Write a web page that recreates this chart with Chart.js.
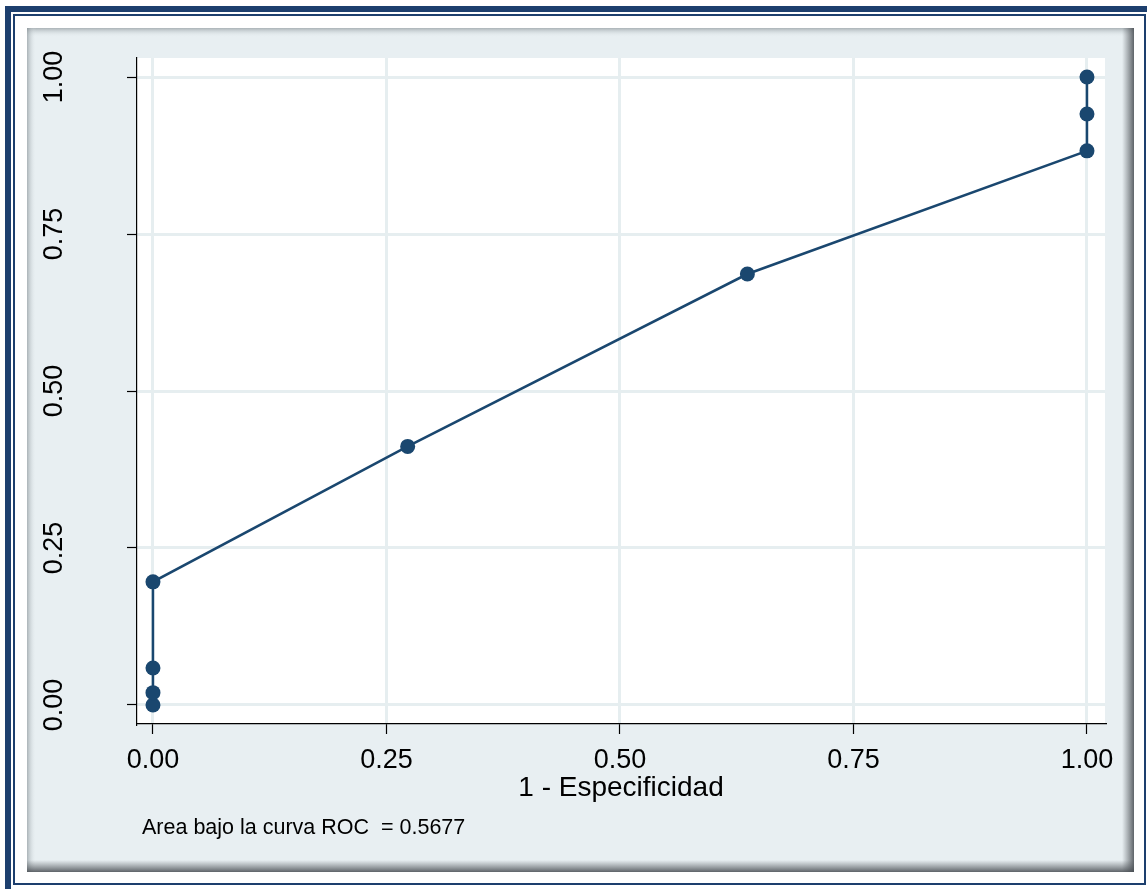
<!DOCTYPE html>
<html>
<head>
<meta charset="utf-8">
<script src="https://cdn.jsdelivr.net/npm/chart.js@4.4.1/dist/chart.umd.min.js"></script>
<style>
  html, body { margin: 0; padding: 0; background: #ffffff; }
  #wrap { position: relative; width: 1147px; height: 889px; }
</style>
</head>
<body>
<div id="wrap"><canvas id="c" width="1147" height="889"></canvas></div>
<script>
// ROC curve points: 1 - specificity (x) and sensitivity (y)
const falsePositiveRate = [0, 0, 0, 0, 0.2727, 0.6364, 1, 1, 1];
const sensitivity = [0, 0.0196, 0.0588, 0.1961, 0.4118, 0.6863, 0.8824, 0.9412, 1];
const xTickValues = [0, 0.25, 0.5, 0.75, 1];
const yTickValues = [0, 0.25, 0.5, 0.75, 1];
const xAxisTitle = '1 - Especificidad';
const footnote = 'Area bajo la curva ROC  = 0.5677';

const NAVY = '#1a476f';
const FRAME = '#1d3f6e';
const PANEL = '#e8eff2';
const GRID = '#e6eef0';
const FONT = '"Liberation Sans", Arial, sans-serif';

const points = falsePositiveRate.map((x, i) => ({ x: x, y: sensitivity[i] }));

const framePlugin = {
  id: 'frame',
  beforeDraw(chart) {
    const ctx = chart.ctx;
    const W = chart.width, H = chart.height;
    ctx.save();
    ctx.fillStyle = '#ffffff';
    ctx.fillRect(0, 0, W, H);
    // thick outer border (top and left)
    ctx.fillStyle = FRAME;
    ctx.fillRect(5, 6, W - 5, 6);
    ctx.fillRect(5, 6, 6, H - 6);
    // thin inner line
    ctx.strokeStyle = FRAME;
    ctx.lineWidth = 2;
    ctx.strokeRect(14, 15, 1131, 869);
    // panel
    const px = 27, py = 28, pw = 1107, ph = 844;
    ctx.fillStyle = PANEL;
    ctx.fillRect(px, py, pw, ph);
    // top / left soft inner shading
    let g = ctx.createLinearGradient(0, py, 0, py + 9);
    g.addColorStop(0, 'rgba(120,130,135,0.55)');
    g.addColorStop(1, 'rgba(232,239,242,0)');
    ctx.fillStyle = g; ctx.fillRect(px, py, pw, 9);
    g = ctx.createLinearGradient(px, 0, px + 9, 0);
    g.addColorStop(0, 'rgba(120,130,135,0.55)');
    g.addColorStop(1, 'rgba(232,239,242,0)');
    ctx.fillStyle = g; ctx.fillRect(px, py, 9, ph);
    // right / bottom darker shadow
    g = ctx.createLinearGradient(px + pw - 12, 0, px + pw, 0);
    g.addColorStop(0, 'rgba(90,95,100,0)');
    g.addColorStop(1, 'rgba(70,75,80,0.85)');
    ctx.fillStyle = g; ctx.fillRect(px + pw - 12, py, 12, ph);
    g = ctx.createLinearGradient(0, py + ph - 12, 0, py + ph);
    g.addColorStop(0, 'rgba(90,95,100,0)');
    g.addColorStop(1, 'rgba(70,75,80,0.85)');
    ctx.fillStyle = g; ctx.fillRect(px, py + ph - 12, pw, 12);
    // plot region
    const a = chart.chartArea;
    ctx.fillStyle = '#ffffff';
    ctx.fillRect(a.left, a.top, a.right - a.left, a.bottom - a.top);
    ctx.restore();
  },
  afterDraw(chart) {
    const ctx = chart.ctx;
    ctx.save();
    ctx.fillStyle = '#000000';
    ctx.font = '21.5px ' + FONT;
    ctx.textAlign = 'left';
    ctx.textBaseline = 'middle';
    ctx.fillText(footnote, 142, 828);
    ctx.restore();
  }
};

new Chart(document.getElementById('c'), {
  type: 'scatter',
  data: {
    datasets: [{
      data: points,
      showLine: true,
      borderColor: NAVY,
      backgroundColor: NAVY,
      borderWidth: 2.5,
      pointRadius: 7.5,
      pointHoverRadius: 7.5,
      pointBorderWidth: 0,
      tension: 0
    }]
  },
  options: {
    responsive: false,
    animation: false,
    events: [],
    layout: { padding: { left: 27, top: 58, right: 42, bottom: 79 } },
    plugins: { legend: { display: false }, tooltip: { enabled: false } },
    scales: {
      x: {
        type: 'linear',
        min: -0.0171,
        max: 1.0193,
        afterBuildTicks(s) { s.ticks = xTickValues.map(v => ({ value: v })); },
        afterFit(s) { s.height = 86; s.paddingLeft = 0; s.paddingRight = 0; },
        ticks: {
          color: '#000000',
          font: { family: FONT, size: 27 },
          padding: 10,
          maxRotation: 0,
          autoSkip: false,
          callback: v => v.toFixed(2)
        },
        grid: { color: GRID, lineWidth: 3, tickLength: 10, tickColor: '#000000', tickWidth: 1.2 },
        border: { display: true, color: '#000000', width: 1.2 },
        title: {
          display: true,
          text: xAxisTitle,
          color: '#000000',
          font: { family: FONT, size: 28 },
          padding: { top: 0, bottom: 5 }
        }
      },
      y: {
        type: 'linear',
        min: -0.0303,
        max: 1.0303,
        afterBuildTicks(s) { s.ticks = yTickValues.map(v => ({ value: v })); },
        afterFit(s) { s.width = 110; s.paddingTop = 0; s.paddingBottom = 0; },
        ticks: {
          color: '#000000',
          font: { family: FONT, size: 27 },
          minRotation: 90,
          maxRotation: 90,
          crossAlign: 'center',
          padding: 46,
          autoSkip: false,
          callback: v => v.toFixed(2)
        },
        grid: { color: GRID, lineWidth: 3, tickLength: 10, tickColor: '#000000', tickWidth: 1.2 },
        border: { display: true, color: '#000000', width: 1.2 }
      }
    }
  },
  plugins: [framePlugin]
});
</script>
</body>
</html>
